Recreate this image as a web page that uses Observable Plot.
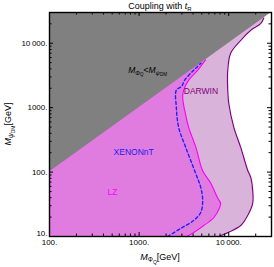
<!DOCTYPE html>
<html><head><meta charset="utf-8">
<script src="https://cdn.jsdelivr.net/npm/d3@7"></script>
<script src="https://cdn.jsdelivr.net/npm/@observablehq/plot@0.6"></script>
<style>body{margin:0;background:#fff}</style>
</head><body><div id="chart"></div>
<script>
// LZ curve (M_PhiQ, M_DM)
const lzX = [3400,4060,5260,6800,7900,8100,7500,6300,5100,4300,3570,3220,3060,3140,3570,4510,5500];
const lzY = [10,11.5,14.8,19.7,28,33,40,67,106,242,495,912,1450,1870,2670,3815,5500];
// XENONnT curve
const xeX = [2080,2900,4060,4870,5120,4870,4280,3310,2760,2600,2600,2990,3220,4060,4900];
const xeY = [10,13.3,17.7,23.6,36,58,95,242,495,1020,1870,2150,2670,3815,4900];
// DARWIN curve
const dwX = [7700,9750,13600,16700,18500,18500,17600,16300,13600,11400,10000,9750,9750,10500,13600,17600,22800,24600];
const dwY = [10,11.5,14.8,22.8,32.6,52,83,106,242,495,1170,1870,3815,7000,11100,15900,20300,24600];

const xMajor = [100,1000,10000];
const yMajor = [100,1000,10000];
const yBottom = [10];
const xMinor = [200,300,400,500,600,700,800,900,2000,3000,4000,5000,6000,7000,8000,9000,20000];
const yMinor = [20,30,40,50,60,70,80,90,200,300,400,500,600,700,800,900,2000,3000,4000,5000,6000,7000,8000,9000,20000];
const xDomain = [100,30000];
const yDomain = [10,30000];

const toPts = (xs, ys) => xs.map((x,i)=>({x, y: ys[i]}));
const lz = toPts(lzX, lzY), xe = toPts(xeX, xeY), dw = toPts(dwX, dwY);

const W=274, H=267, mL=49, mR=3, mT=12, mB=31;
const iw = W-mL-mR, ih = H-mT-mB;
const fmt = d => (d >= 10000 ? d3.format(",")(d).replace(",", "\u2009") : String(d)) + ".";

const chart = Plot.plot({
  width: W, height: H, marginLeft: mL, marginRight: mR, marginTop: mT, marginBottom: mB,
  style: {fontFamily: "'Liberation Sans', Arial, sans-serif", fontSize: "8px", background: "white", color: "#000"},
  x: {type: "log", domain: xDomain},
  y: {type: "log", domain: yDomain},
  marks: [
    Plot.areaX(dw, {y: "y", x1: xDomain[0], x2: "x", fill: "#d9b3d9", curve: "catmull-rom"}),
    Plot.areaX(lz, {y: "y", x1: xDomain[0], x2: "x", fill: "#e07be0", curve: "catmull-rom"}),
    Plot.areaY([xDomain[0], xDomain[1]], {x: d=>d, y1: d=>d, y2: yDomain[1], fill: "#808080"}),
    Plot.line(dw, {x: "x", y: "y", stroke: "#800080", strokeWidth: 1.2, curve: "catmull-rom"}),
    Plot.line(lz, {x: "x", y: "y", stroke: "#ff00ff", strokeWidth: 1.2, curve: "catmull-rom"}),
    Plot.line(xe, {x: "x", y: "y", stroke: "#2020ff", strokeWidth: 1.4, strokeDasharray: "3,2.5", curve: "catmull-rom"}),
    Plot.text([{x: 3150, y: 1800}], {x: "x", y: "y", text: () => "DARWIN", fill: "#800080", textAnchor: "start", fontSize: 8.5}),
    Plot.text([{x: 519, y: 202}], {x: "x", y: "y", text: () => "XENONnT", fill: "#2020ee", textAnchor: "start", fontSize: 8.5}),
    Plot.text([{x: 445, y: 48}], {x: "x", y: "y", text: () => "LZ", fill: "#ff00ff", textAnchor: "start", fontSize: 8.5}),
    Plot.tickX(xMajor, {x: d=>d, insetTop: ih-4, stroke: "#000"}),
    Plot.tickX(xMajor, {x: d=>d, insetBottom: ih-4, stroke: "#000"}),
    Plot.tickX(xMinor, {x: d=>d, insetTop: ih-2.5, stroke: "#000"}),
    Plot.tickX(xMinor, {x: d=>d, insetBottom: ih-2.5, stroke: "#000"}),
    Plot.tickY(yMajor, {y: d=>d, insetRight: iw-4, stroke: "#000"}),
    Plot.tickY(yMajor, {y: d=>d, insetLeft: iw-4, stroke: "#000"}),
    Plot.tickY(yMinor, {y: d=>d, insetRight: iw-2.5, stroke: "#000"}),
    Plot.tickY(yMinor, {y: d=>d, insetLeft: iw-2.5, stroke: "#000"}),
    Plot.frame({stroke: "#000", strokeWidth: 1.4}),
    Plot.axisX({ticks: xMajor, tickFormat: fmt, tickSize: 0, tickPadding: 3, label: null}),
    Plot.axisY({ticks: yMajor, tickFormat: fmt, tickSize: 0, tickPadding: 2, label: null}),
    Plot.axisY({ticks: yBottom, tickFormat: fmt, tickSize: 0, tickPadding: 2, label: null, dy: -3.5})
  ]
});
document.getElementById("chart").appendChild(chart);

const svg = d3.select(chart);
const sx = chart.scale("x"), sy = chart.scale("y");
function rich(x, y, parts, opts = {}) {
  const t = svg.append("text").attr("x", x).attr("y", y)
    .attr("text-anchor", opts.anchor || "middle")
    .attr("fill", opts.fill || "#000")
    .attr("font-family", "'Liberation Sans', Arial, sans-serif");
  if (opts.rotate) t.attr("transform", `rotate(-90 ${x} ${y})`);
  parts.forEach(p => {
    const s = t.append("tspan").text(p.t).attr("font-size", p.s);
    if (p.i) s.attr("font-style", "italic");
    if (p.dy) s.attr("dy", p.dy);
  });
  return t;
}
const cx = mL + iw/2;
// title
rich(cx, 8.5, [{t: "Coupling with ", s: 9}, {t: "t", s: 9, i: true}, {t: "R", s: 6, dy: 2}]);
// x label
rich(cx, 260, [{t: "M", s: 9, i: true}, {t: "Φ", s: 6.5, dy: 2}, {t: "Q", s: 5, dy: 1.5}, {t: "[GeV]", s: 9, dy: -3.5}]);
// y label
rich(11, mT + ih/2, [{t: "M", s: 9, i: true}, {t: "ψ", s: 6.5, i: true, dy: 2}, {t: "DM", s: 5, dy: 1.5}, {t: "[GeV]", s: 9, dy: -3.5}], {rotate: true});
// region label
rich(sx.apply(764), sy.apply(3800) + 3, [{t: "M", s: 8.5, i: true}, {t: "Φ", s: 6, dy: 2}, {t: "Q", s: 4.5, dy: 1.5}, {t: "<", s: 8.5, dy: -3.5}, {t: "M", s: 8.5, i: true}, {t: "ψ", s: 6, i: true, dy: 2}, {t: "DM", s: 4.5, dy: 1.5}], {anchor: "start"});
</script>
</body></html>
